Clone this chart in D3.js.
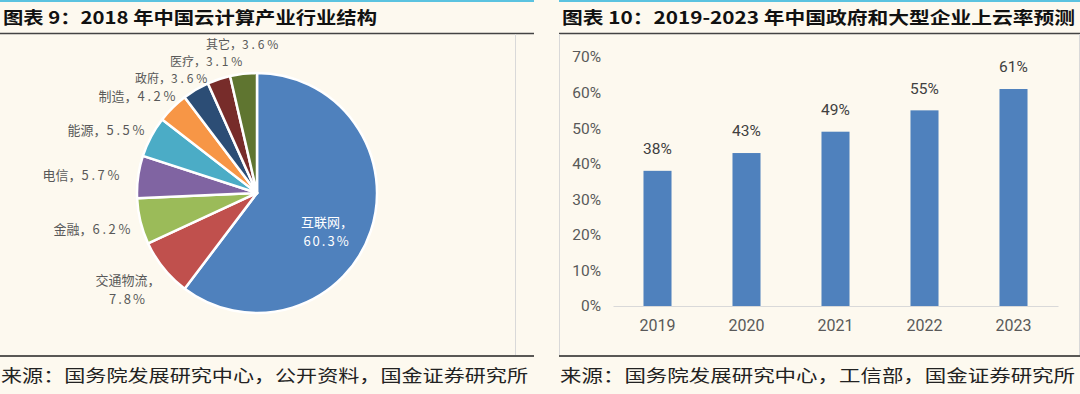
<!DOCTYPE html>
<html><head><meta charset="utf-8">
<script src="https://cdn.jsdelivr.net/npm/d3@7"></script>
<style>
html,body{margin:0;padding:0;background:#fdf9ef;}
svg{display:block;}
</style></head>
<body>
<svg id="c" width="1080" height="394"></svg>
<script>
// ---------- data ----------
const pieCategories = ["互联网","交通物流","金融","电信","能源","制造","政府","医疗","其它"];
const pieValues = [60.3, 7.8, 6.2, 5.7, 5.5, 4.2, 3.6, 3.1, 3.6];
const barCategories = ["2019","2020","2021","2022","2023"];
const barValues = [0.38, 0.43, 0.49, 0.55, 0.61];
const yTickValues = [0, 0.1, 0.2, 0.3, 0.4, 0.5, 0.6, 0.7];
const titleLeft = "图表 9：2018 年中国云计算产业行业结构";
const titleRight = "图表 10：2019-2023 年中国政府和大型企业上云率预测";
const sourceLeft = "来源：国务院发展研究中心，公开资料，国金证券研究所";
const sourceRight = "来源：国务院发展研究中心，工信部，国金证券研究所";

// ---------- styles / layout ----------
const pieColors = ["#4f81bd","#c0504d","#9bbb59","#8064a2","#4bacc6","#f79646","#2c4d75","#772c2a","#5f7530"];
// label anchor points relative to pie centre, [dx, dy, anchor, twoLines, fontSize]
const pieLabelLayout = [
  [70, 29, "middle", true, 13],
  [-129, 87, "middle", true, 13],
  [-124, 36, "end", false, 13],
  [-135, -18, "end", false, 13],
  [-110, -63, "end", false, 13],
  [-79, -97, "end", false, 13],
  [-47, -114, "end", false, 12],
  [-12, -131, "end", false, 12],
  [24, -148, "end", false, 12]
];
const CJK = "'Noto Sans CJK SC','Noto Sans',sans-serif";
const svg = d3.select("#c");

// ---------- frames ----------
function panel(x0, x1, frameL, frameR) {
  svg.append("line").attr("x1", x0).attr("x2", x1).attr("y1", 1).attr("y2", 1)
    .attr("stroke", "#5bc3e0").attr("stroke-width", 2);
  svg.append("line").attr("x1", x0).attr("x2", x1).attr("y1", 33.5).attr("y2", 33.5)
    .attr("stroke", "#444").attr("stroke-width", 1.5);
  svg.append("line").attr("x1", x0).attr("x2", x1).attr("y1", 356).attr("y2", 356)
    .attr("stroke", "#222").attr("stroke-width", 1.5);
  [frameL, frameR].forEach(fx => {
    if (fx == null) return;
    svg.append("line").attr("x1", fx).attr("x2", fx).attr("y1", 34).attr("y2", 355)
      .attr("stroke", "#d9d9d9").attr("stroke-width", 1);
  });
}
panel(0, 534, null, 515.5);
panel(559, 1080, 559.5, 1079.5);

function titleText(x, w, t) {
  svg.append("text").attr("x", x).attr("y", 24).text(t)
    .attr("font-family", CJK).attr("font-weight", "bold").attr("font-size", 17.5)
    .attr("fill", "#111").attr("textLength", w).attr("lengthAdjust", "spacingAndGlyphs");
}
titleText(3, 374, titleLeft);
titleText(562, 513, titleRight);

function sourceText(x, w, t) {
  svg.append("text").attr("x", x).attr("y", 382).text(t)
    .attr("font-family", CJK).attr("font-size", 16.5)
    .attr("fill", "#222").attr("textLength", w).attr("lengthAdjust", "spacingAndGlyphs");
}
sourceText(1, 527, sourceLeft);
sourceText(560, 515, sourceRight);

// ---------- pie ----------
const cx = 257, cy = 193, R = 120;
const pieData = pieCategories.map((c, i) => ({cat: c, val: pieValues[i]}));
const arcs = d3.pie().value(d => d.val).sort(null)(pieData);
const arc = d3.arc().innerRadius(0).outerRadius(R);
const pg = svg.append("g").attr("transform", `translate(${cx},${cy})`);
pg.selectAll("path").data(arcs).join("path")
  .attr("d", arc).attr("fill", (d, i) => pieColors[i])
  .attr("stroke", "#fff").attr("stroke-width", 2.5).attr("stroke-linejoin", "round");

const lg = pg.append("g").attr("font-family", CJK);
arcs.forEach((a, i) => {
  const [dx, dy, anchor, two, fs] = pieLabelLayout[i];
  const col = i === 0 ? "#ffffff" : "#595959";
  const pct = d3.format(".1f")(a.data.val) + "%";
  if (two) {
    const t = lg.append("text").attr("text-anchor", anchor).attr("fill", col).attr("font-size", fs);
    t.append("tspan").attr("x", dx).attr("y", dy).attr("dy", "0.35em").text(a.data.cat + "，");
    t.append("tspan").attr("x", dx).attr("y", dy + 19).attr("dy", "0.35em")
      .attr("letter-spacing", 2).text(pct);
  } else {
    const t = lg.append("text").attr("text-anchor", anchor).attr("fill", col).attr("font-size", fs)
      .attr("x", dx).attr("y", dy).attr("dy", "0.35em");
    t.append("tspan").text(a.data.cat + "，");
    t.append("tspan").attr("letter-spacing", fs > 12.5 ? 2.6 : 2.8).text(pct);
  }
});

// ---------- bar ----------
const x = d3.scaleBand().domain(barCategories).range([613, 1058])
  .paddingInner(0.685).paddingOuter(0.3425);
const y = d3.scaleLinear().domain([0, 0.7]).range([306, 57]);
const FONT = "Roboto,'Noto Sans',sans-serif";

svg.append("g").selectAll("rect").data(barValues).join("rect")
  .attr("x", (d, i) => x(barCategories[i])).attr("width", x.bandwidth())
  .attr("y", d => y(d)).attr("height", d => y(0) - y(d))
  .attr("fill", "#4f81bd");

const yAxis = svg.append("g").attr("transform", "translate(606,0)")
  .call(d3.axisLeft(y).tickValues(yTickValues).tickFormat(d3.format(".0%")).tickSize(0).tickPadding(5));
yAxis.select(".domain").remove();
yAxis.selectAll("text").attr("font-family", FONT).attr("font-size", 15.5).attr("fill", "#595959");

const xAxis = svg.append("g").attr("transform", `translate(0,${y(0)})`)
  .call(d3.axisBottom(x).tickSize(0).tickPadding(14));
xAxis.select(".domain").attr("stroke", "#d9d9d9").attr("stroke-width", 1.2);
xAxis.selectAll("text").attr("font-family", FONT).attr("font-size", 16).attr("fill", "#595959");

svg.append("g").selectAll("text").data(barValues).join("text")
  .attr("x", (d, i) => x(barCategories[i]) + x.bandwidth() / 2)
  .attr("y", d => y(d) - 22).attr("dy", "0.35em")
  .attr("text-anchor", "middle")
  .attr("font-family", FONT).attr("font-size", 15.5).attr("fill", "#404040")
  .text(d => d3.format(".0%")(d));
</script>
</body></html>
